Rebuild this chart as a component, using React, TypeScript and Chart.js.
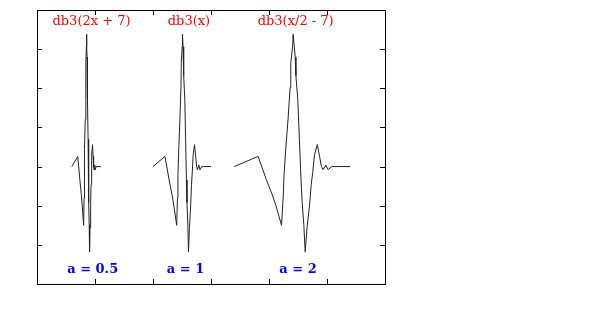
import React, { useEffect, useRef } from "react";
import Chart from "chart.js/auto";

// db3 wavelet shape (support 0..5)
const psiT = [0, 1.03, 1.39, 1.64, 1.79, 2.04, 2.11, 2.15, 2.22, 2.32, 2.41, 2.44, 2.52, 2.54, 2.59, 2.63, 2.66, 2.74, 2.81, 2.88, 2.93, 3.0, 3.06, 3.14, 3.25, 3.32, 3.39, 3.46, 3.58, 3.68, 3.76, 3.83, 3.95, 4.05, 4.2, 4.34, 5];
const psiV = [0, 0.13, -0.17, -0.36, -0.49, -0.75, -0.4, -0.1, 0.22, 0.6, 1.01, 1.33, 1.54, 1.69, 1.53, 1.4, 1.16, 0.86, 0.35, -0.17, -0.46, -0.74, -1.09, -0.78, -0.49, -0.23, -0.06, 0.15, 0.28, 0.13, 0.0, -0.04, 0.02, -0.04, 0, 0, 0];

const seriesNames = ["db3(2x + 7)", "db3(x)", "db3(x/2 - 7)"];
const scaleLabels = ["a = 0.5", "a = 1", "a = 2"];
const scales = [0.5, 1, 2];
const offsets = [-7, 0, 7];
const labelX = [-5.3, 3.1, 12.3];
const scaleLabelX = [-5.2, 2.8, 12.5];

const xTicks = [-5, 0, 5, 10, 15];
const yTicks = [-1, -0.5, 0, 0.5, 1, 1.5];

const framePlugin = {
  id: "frame",
  afterDraw(chart: any) {
    const { ctx, chartArea } = chart;
    const xs = chart.scales.x;
    const ys = chart.scales.y;
    const { left, right, top, bottom } = chartArea;
    ctx.save();
    ctx.strokeStyle = "#000";
    ctx.lineWidth = 1;
    ctx.strokeRect(left + 0.5, top + 0.5, right - left, bottom - top);
    ctx.beginPath();
    const tl = 5;
    xTicks.forEach((v) => {
      const px = Math.round(xs.getPixelForValue(v)) + 0.5;
      ctx.moveTo(px, bottom);
      ctx.lineTo(px, bottom - tl);
      ctx.moveTo(px, top);
      ctx.lineTo(px, top + tl);
    });
    yTicks.forEach((v) => {
      const py = Math.round(ys.getPixelForValue(v)) + 0.5;
      ctx.moveTo(left, py);
      ctx.lineTo(left + tl, py);
      ctx.moveTo(right, py);
      ctx.lineTo(right - tl, py);
    });
    ctx.stroke();

    ctx.textAlign = "center";
    ctx.textBaseline = "alphabetic";
    ctx.fillStyle = "#ff0000";
    ctx.font = "13px 'DejaVu Serif'";
    seriesNames.forEach((s, i) => {
      ctx.fillText(s, xs.getPixelForValue(labelX[i]), top + 15);
    });
    ctx.fillStyle = "#0000ff";
    ctx.font = "bold 13px 'DejaVu Serif'";
    scaleLabels.forEach((s, i) => {
      ctx.fillText(s, xs.getPixelForValue(scaleLabelX[i]), bottom - 11);
    });
    ctx.restore();
  },
};

export default function App() {
  const ref = useRef<HTMLCanvasElement>(null);
  useEffect(() => {
    if (!ref.current) return;
    const datasets = scales.map((a, i) => ({
      label: seriesNames[i],
      data: psiT.map((t, j) => ({ x: offsets[i] + a * t, y: psiV[j] })),
      showLine: true,
      borderColor: "#222",
      borderWidth: 1,
      pointRadius: 0,
      fill: false,
      tension: 0,
    }));
    const chart = new Chart(ref.current, {
      type: "scatter",
      data: { datasets },
      options: {
        animation: false,
        responsive: false,
        events: [],
        layout: { padding: { left: 37, right: 216, top: 10, bottom: 30 } },
        plugins: { legend: { display: false }, tooltip: { enabled: false } },
        scales: {
          x: { type: "linear", display: false, min: -10, max: 20 },
          y: { type: "linear", display: false, min: -1.5, max: 2 },
        },
      },
      plugins: [framePlugin],
    });
    return () => chart.destroy();
  }, []);
  return (
    <div style={{ position: "absolute", left: 0, top: 0, width: 601, height: 314, background: "#fff" }}>
      <canvas ref={ref} width={601} height={314} style={{ width: 601, height: 314 }} />
    </div>
  );
}
